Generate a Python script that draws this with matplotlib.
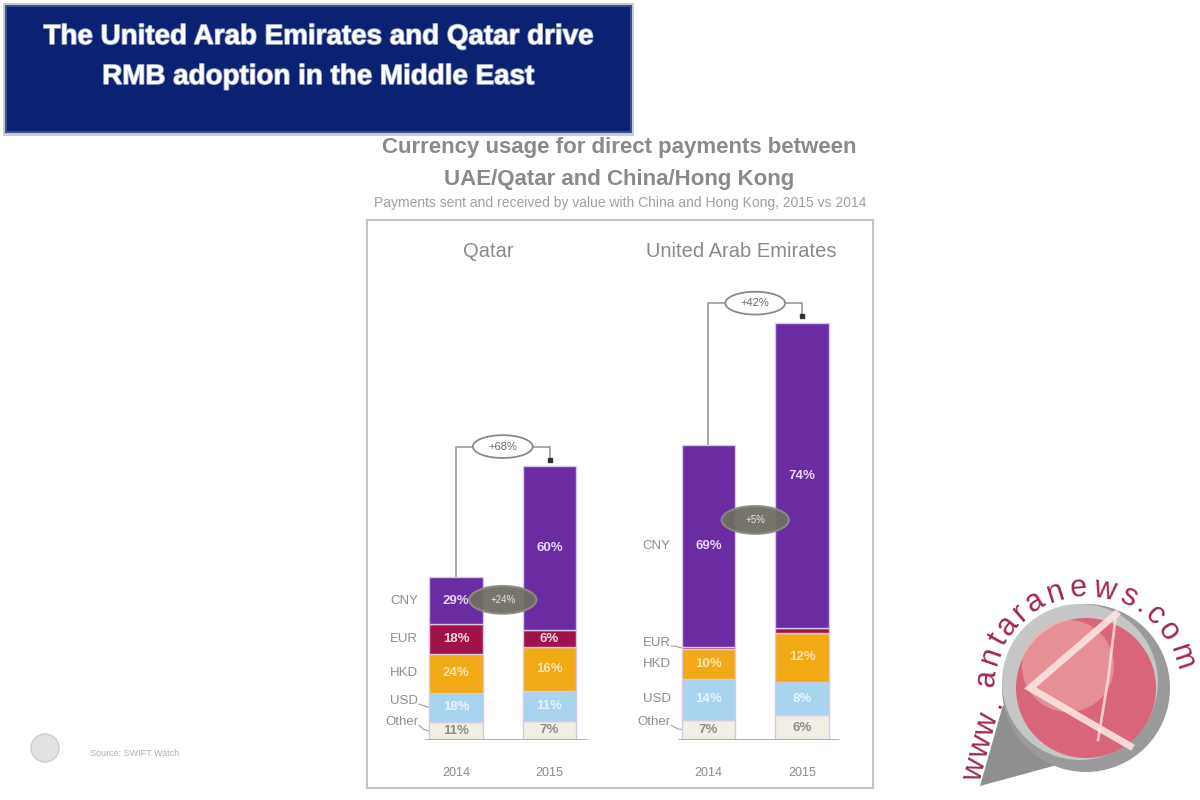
import numpy as np
import matplotlib
matplotlib.use("Agg")
import matplotlib.pyplot as plt
from matplotlib.patches import Rectangle, Ellipse, Circle, Polygon
import matplotlib.patheffects as pe

# ---------------- data ----------------
groups = ["Qatar", "United Arab Emirates"]
years = ["2014", "2015"]
currencies = ["Other", "USD", "HKD", "EUR", "CNY"]
qatar_2014 = [11, 18, 24, 18, 29]
qatar_2015 = [7, 11, 16, 6, 60]
uae_2014 = [7, 14, 10, 1, 69]
uae_2015 = [6, 8, 12, 1, 74]
# relative total payment value (index, Qatar 2014 = 100)
totals = [100, 168, 181, 256]
total_growth = ["+68%", "+42%"]
cny_growth = ["+24%", "+5%"]
shown_labels = [[True] * 5, [True] * 5, [True, True, True, False, True], [True, True, True, False, True]]

title_lines = ["The United Arab Emirates and Qatar drive", "RMB adoption in the Middle East"]
chart_title_lines = ["Currency usage for direct payments between", "UAE/Qatar and China/Hong Kong"]
chart_sub = "Payments sent and received by value with China and Hong Kong, 2015 vs 2014"
source = "Source: SWIFT Watch"
watermark = "www.antaranews.com"

# ---------------- style ----------------
seg_colors = {"Other": "#f1eee4", "USD": "#a8d4ef", "HKD": "#f1a915",
              "EUR": "#a0124a", "CNY": "#6a2ca0"}
txt_colors = {"Other": "#8c8c8c", "USD": "#e8f4fb", "HKD": "#fbe6b4",
              "EUR": "#f6d8e4", "CNY": "#e6d8f6"}
GRAY = "#8a8a8a"

W, H = 1200, 800
fig = plt.figure(figsize=(12, 8), dpi=100)
fig.patch.set_facecolor("white")

def fx(px):
    return px / W

def fy(py):
    return 1 - py / H

# ---------------- header box ----------------
fig.patches.append(Rectangle((fx(3), fy(136)), 631 / W, 133 / H, transform=fig.transFigure,
                             facecolor="#c9cdd6", edgecolor="none", zorder=0))
fig.patches.append(Rectangle((fx(6), fy(132)), 625 / W, 126 / H, transform=fig.transFigure,
                             facecolor="#0b2272", edgecolor="#3a4f8e", lw=1.5, zorder=1))
for i, line in enumerate(title_lines):
    fig.text(fx(318), fy(37 + 40 * i), line, ha="center", va="center", color="white",
             fontsize=20, fontweight="bold",
             family=["Liberation Sans Narrow", "Liberation Sans", "DejaVu Sans"],
             path_effects=[pe.withStroke(linewidth=1.2, foreground="#9aa3c4")])

# ---------------- chart titles ----------------
for i, line in enumerate(chart_title_lines):
    fig.text(fx(619), fy(148 + 32 * i), line, ha="center", va="center", color=GRAY,
             fontsize=16, fontweight="bold", family="Liberation Sans")
fig.text(fx(620), fy(203), chart_sub, ha="center", va="center", color="#a0a0a0",
         fontsize=10, family="Liberation Sans")

# panel border
fig.patches.append(Rectangle((fx(367), fy(788)), (873 - 367) / W, (788 - 220) / H,
                             transform=fig.transFigure, facecolor="none",
                             edgecolor="#c4c4c4", lw=1.5, zorder=0))

# ---------------- bar chart ----------------
unit_px = 93.5
px_per_val = 1.63
ax = fig.add_axes([fx(370), fy(740), (875 - 370) / W, (740 - 290) / H])
ax.set_xlim((370 - 456) / unit_px, (875 - 456) / unit_px)
ax.set_ylim(0, (740 - 290) / px_per_val)
ax.axis("off")

xpos = [0.0, 1.0, 2.7, 3.7]
bar_w = 0.57
series = [qatar_2014, qatar_2015, uae_2014, uae_2015]

seg_centers = []
for b, (x, shares, tot) in enumerate(zip(xpos, series, totals)):
    s = np.array(shares, dtype=float)
    heights = s / s.sum() * tot
    bottoms = np.concatenate([[0], np.cumsum(heights)[:-1]])
    seg_centers.append(bottoms + heights / 2)
    for k, cur in enumerate(currencies):
        ax.bar(x, heights[k], bottom=bottoms[k], width=bar_w, color=seg_colors[cur],
               edgecolor="#d6c9e6", linewidth=1.0, zorder=2)
        if shown_labels[b][k]:
            ax.text(x, bottoms[k] + heights[k] / 2, f"{shares[k]}%", ha="center", va="center",
                    fontsize=9.5, color=txt_colors[cur], fontweight="bold",
                    family="Liberation Sans", zorder=3)

# baselines, years, group titles
for g in range(2):
    x0, x1 = xpos[2 * g], xpos[2 * g + 1]
    ax.plot([x0 - 0.33, x1 + 0.4], [0, 0], color="#a9a9a9", lw=2, zorder=4,
            solid_capstyle="butt")
    for x, yr in zip((x0, x1), years):
        ax.text(x, -20, yr, ha="center", va="center", fontsize=9, color="#8a8a8a",
                family="Liberation Sans")
    ax.text((x0 + x1) / 2 - 0.15, 300, groups[g], ha="center", va="center",
            fontsize=14.5, color="#8a8a8a", family="Liberation Sans", clip_on=False)

# category labels with leaders
for g in range(2):
    b = 2 * g
    x_lab = xpos[b] - bar_w / 2 - 0.12
    prev = -1e9
    for k, cur in enumerate(currencies):
        yc = seg_centers[b][k]
        yl = max(yc, prev + 13, 11)
        prev = yl
        ax.text(x_lab, yl, cur, ha="right", va="center", fontsize=9.5, color="#8e8e8e",
                family="Liberation Sans")
        if yl - yc > 3:
            ax.plot([x_lab + 0.01, x_lab + 0.06, xpos[b] - bar_w / 2],
                    [yl - 2, yc + 1, yc], color="#a0a0a0", lw=0.8, zorder=1)

# total growth connectors
for g in range(2):
    x0, x1 = xpos[2 * g], xpos[2 * g + 1]
    t0, t1 = totals[2 * g], totals[2 * g + 1]
    lvl = max(t0, t1) + 12
    ax.plot([x0, x0, x1, x1], [t0, lvl, lvl, t1 + 4], color="#9a9a9a", lw=1.2, zorder=1)
    ax.plot([x1], [t1 + 4], marker="s", ms=3, color="#333333", zorder=5)
    mid = (x0 + x1) / 2
    ax.add_patch(Ellipse((mid, lvl), 0.64, 14, facecolor="white", edgecolor="#8a8a8a",
                         lw=1.3, zorder=5))
    ax.text(mid, lvl, total_growth[g], ha="center", va="center", fontsize=8,
            color="#6a6a6a", family="Liberation Sans", zorder=6)

# CNY growth ovals
mid_oval_y = [86, 135]
for g in range(2):
    mid = (xpos[2 * g] + xpos[2 * g + 1]) / 2
    ax.add_patch(Ellipse((mid, mid_oval_y[g]), 0.72, 17, facecolor="#6f6d63",
                         edgecolor="#8d8b80", lw=1.5, alpha=0.95, zorder=5))
    ax.text(mid, mid_oval_y[g], cny_growth[g], ha="center", va="center", fontsize=7,
            color="#e8e8e8", family="Liberation Sans", zorder=6)

# ---------------- source ----------------
fig.patches.append(Ellipse((fx(45), fy(748)), 28 / W, 28 / H, transform=fig.transFigure,
                           facecolor="#e2e2e2", edgecolor="#cdcdcd", lw=1))
fig.text(fx(90), fy(754), source, ha="left", va="center", fontsize=6.5,
         color="#b0b0b0", family="Liberation Sans")

# ---------------- watermark logo ----------------
axl = fig.add_axes([fx(940), 0, 260 / W, 240 / H])
axl.set_xlim(940, 1200)
axl.set_ylim(800, 560)
axl.axis("off")
cx, cy = 1086, 688
axl.add_patch(Polygon([[1003, 705], [980, 786], [1068, 762]], closed=True,
                      facecolor="#8f8f8f", edgecolor="none"))
axl.add_patch(Circle((cx, cy), 84, facecolor="#9a9a9a", edgecolor="none"))
axl.add_patch(Circle((cx - 6, cy - 6), 78, facecolor="#c6c6c6", edgecolor="none"))
axl.add_patch(Circle((cx, cy), 70, facecolor="#d9657a", edgecolor="none"))
axl.add_patch(Circle((cx - 18, cy - 22), 46, facecolor="#f2b3ad", edgecolor="none", alpha=0.55))
axl.plot([1116, 1030, 1130], [614, 688, 746], color="#fbe4e0", lw=5, alpha=0.9,
         solid_joinstyle="miter")
axl.plot([1116, 1108, 1098], [614, 680, 740], color="#fbe4e0", lw=2, alpha=0.8)

wm_color = "#a0284f"
wm_size = 22
# straight "www." part
www = watermark[:4]
rest = watermark[4:]
p0 = np.array([975.0, 770.0])
p1 = np.array([993.0, 703.0])
for i, ch in enumerate(www):
    p = p0 + (p1 - p0) * i / (len(www) - 1)
    axl.text(p[0], p[1], ch, ha="center", va="center", rotation=75, fontsize=wm_size,
             color=wm_color, family="Liberation Sans")
# arc part with width-proportional spacing
cw = {"a": .556, "n": .556, "t": .278, "r": .333, "e": .556, "w": .722, "s": .5,
      ".": .278, "c": .5, "o": .556, "m": .833}
widths = np.array([cw.get(c, .55) for c in rest])
cum = np.cumsum(widths) - widths / 2
frac = (cum - cum[0]) / (cum[-1] - cum[0])
a_start, a_end = 174, 18
r = 100
for ch, f in zip(rest, frac):
    a = a_start + (a_end - a_start) * f
    t = np.deg2rad(a)
    axl.text(cx + r * np.cos(t), cy - r * np.sin(t), ch, ha="center", va="center",
             rotation=a - 90, fontsize=wm_size, color=wm_color, family="Liberation Sans")

fig.savefig("out.png", dpi=100)
